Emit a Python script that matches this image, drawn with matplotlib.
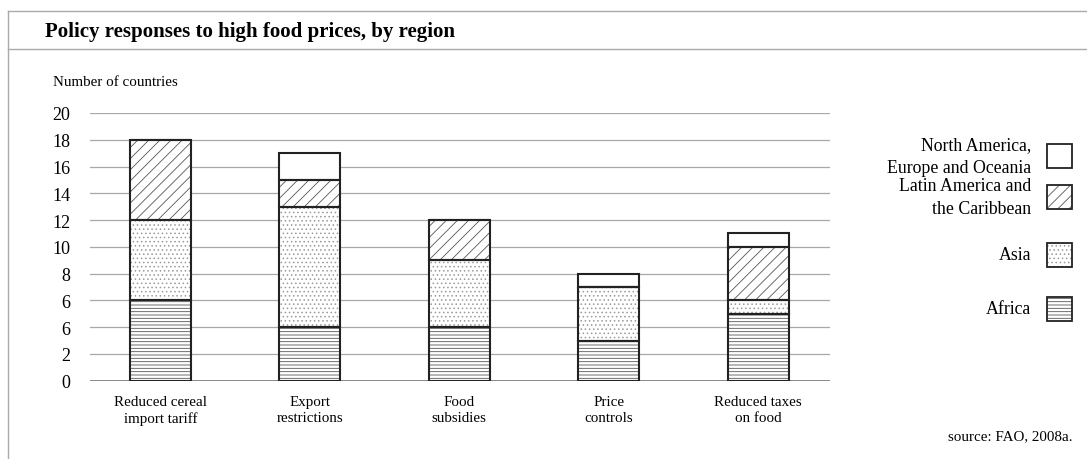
import numpy as np
import matplotlib.pyplot as plt
from matplotlib.patches import Rectangle
from matplotlib.lines import Line2D

plt.rcParams['font.family'] = ['Liberation Serif', 'DejaVu Serif']
plt.rcParams['hatch.linewidth'] = 0.6

# data
categories = ["Reduced cereal\nimport tariff", "Export\nrestrictions", "Food\nsubsidies",
              "Price\ncontrols", "Reduced taxes\non food"]
africa = [6, 4, 4, 3, 5]
asia = [6, 9, 5, 4, 1]
latin = [6, 2, 3, 0, 4]
north = [0, 2, 0, 1, 1]
series_names = ["Africa", "Asia", "Latin America and\nthe Caribbean", "North America,\nEurope and Oceania"]
ytick_vals = [0, 2, 4, 6, 8, 10, 12, 14, 16, 18, 20]
ytick_labels = ["0", "2", "6", "6", "8", "10", "12", "14", "16", "18", "20"]

hatches = ['-----', '....', '///', '']
hatch_cols = ['#555555', '#9a9a9a', '#555555', 'white']

fig = plt.figure(figsize=(10.87, 4.60), dpi=100)
ax = fig.add_axes([90/1087, 1-381.7/460, 740/1087, (381.7-114)/460])

x = np.arange(len(categories))
w = 0.41
bottom = np.zeros(len(categories))
for vals, h, hc in zip([africa, asia, latin, north], hatches, hatch_cols):
    vals = np.array(vals)
    ax.bar(x, vals, w, bottom=bottom, color='white', edgecolor=hc, hatch=h, linewidth=0, zorder=2)
    ax.bar(x, vals, w, bottom=bottom, fill=False, edgecolor='#222222', linewidth=1.5, zorder=3)
    bottom += vals

ax.set_xlim(-0.47, 4.48)
ax.set_ylim(0, 20)
ax.set_yticks(ytick_vals)
ax.set_yticklabels(ytick_labels, fontsize=13)
ax.set_xticks(x)
ax.set_xticklabels(categories, fontsize=10.8, linespacing=1.3)
ax.tick_params(length=0)
ax.tick_params(axis='y', pad=14)
ax.tick_params(axis='x', pad=10)
for s in ax.spines.values():
    s.set_visible(False)
ax.yaxis.grid(True, color='#a8a8a8', linewidth=0.9)
ax.axhline(0, color='#777777', linewidth=1.2, zorder=1)
ax.set_axisbelow(True)

# frame around the figure
fig.add_artist(Line2D([8/1087, 8/1087], [0, 1-12/460], color='#aaaaaa', lw=1))
fig.add_artist(Line2D([8/1087, 1], [1-12/460, 1-12/460], color='#aaaaaa', lw=1))
fig.add_artist(Line2D([8/1087, 1], [1-50/460, 1-50/460], color='#aaaaaa', lw=1))

fig.text(45/1087, 1-32/460, "Policy responses to high food prices, by region",
         fontsize=15, fontweight='bold', va='center', ha='left')
fig.text(53/1087, 1-82/460, "Number of countries", fontsize=10.8, va='center', ha='left')
fig.text(1072/1087, 1-437/460, "source: FAO, 2008a.", fontsize=10.8, va='center', ha='right')

# legend drawn by hand
leg_y = [157, 198, 256, 310]
for name, h, hc, yc in zip(series_names[::-1], hatches[::-1], hatch_cols[::-1], leg_y):
    bx, by, bw, bh = 1047/1087, 1-(yc+12)/460, 25/1087, 24/460
    fig.add_artist(Rectangle((bx, by), bw, bh, transform=fig.transFigure,
                             facecolor='white', edgecolor=hc, hatch=h, linewidth=0))
    fig.add_artist(Rectangle((bx, by), bw, bh, transform=fig.transFigure,
                             fill=False, edgecolor='#222222', linewidth=1.3))
    fig.text(1031/1087, 1-yc/460, name, fontsize=12.8, ha='right', va='center',
             multialignment='right', linespacing=1.45)

fig.savefig("out.png", dpi=100)
